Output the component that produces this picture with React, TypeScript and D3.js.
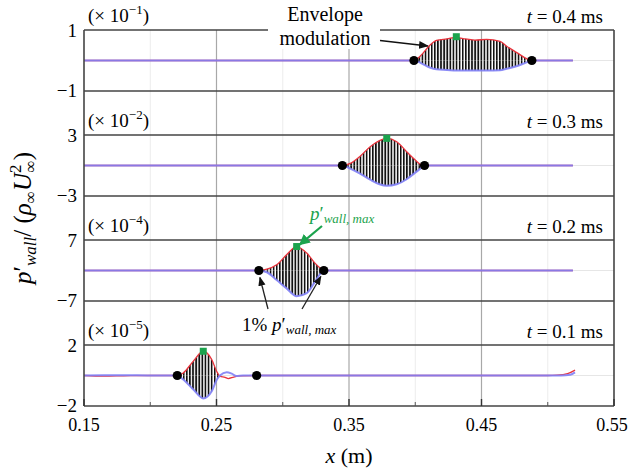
import React from 'react';
import * as d3 from 'd3';

type Pt = [number, number];

const xTicks = [0.15, 0.25, 0.35, 0.45, 0.55];
const xMinorTicks = [0.2, 0.3, 0.4, 0.5];
const timeLabels = ['0.4', '0.3', '0.2', '0.1'];
const scaleExponents = ['−1', '−2', '−4', '−5'];
const yLimits = [1, 3, 7, 2];

// red = upper envelope, blue = lower envelope (values in the panel's own units)
const red04: Pt[] = [[0.15, 0], [0.399, 0], [0.405, 0.2], [0.411, 0.5], [0.416, 0.66], [0.424, 0.71], [0.431, 0.76], [0.436, 0.72], [0.445, 0.67], [0.454, 0.69], [0.464, 0.63], [0.469, 0.47], [0.477, 0.25], [0.484, 0.06], [0.488, 0], [0.519, 0]];
const blue04: Pt[] = [[0.15, 0], [0.399, 0], [0.405, -0.1], [0.411, -0.23], [0.416, -0.29], [0.424, -0.31], [0.431, -0.33], [0.436, -0.33], [0.445, -0.33], [0.454, -0.33], [0.464, -0.32], [0.469, -0.27], [0.477, -0.18], [0.484, -0.06], [0.488, 0], [0.519, 0]];

const red03: Pt[] = [[0.15, 0], [0.345, 0], [0.351, 0.21], [0.358, 0.87], [0.366, 1.85], [0.373, 2.45], [0.3785, 2.67], [0.386, 2.34], [0.3935, 1.36], [0.4, 0.54], [0.4035, 0.15], [0.407, 0], [0.519, 0]];
const blue03: Pt[] = [[0.15, 0], [0.345, 0], [0.351, -0.3], [0.358, -0.77], [0.366, -1.4], [0.373, -1.85], [0.3785, -2.0], [0.386, -1.85], [0.3935, -1.35], [0.4, -0.7], [0.4035, -0.35], [0.407, 0], [0.519, 0]];

const red02: Pt[] = [[0.15, 0], [0.282, 0], [0.288, 0.3], [0.2954, 1.3], [0.3029, 3.6], [0.3105, 5.5], [0.3181, 4.0], [0.3243, 1.7], [0.3285, 0.5], [0.331, 0], [0.519, 0]];
const blue02: Pt[] = [[0.15, 0], [0.282, 0], [0.288, -0.4], [0.2954, -2.2], [0.3029, -4.1], [0.3105, -5.9], [0.3181, -5.2], [0.3243, -2.6], [0.3285, -0.7], [0.331, 0], [0.519, 0]];

const red01: Pt[] = [[0.15, 0], [0.165, -0.04], [0.18, -0.02], [0.2, 0], [0.2204, 0], [0.2249, 0.17], [0.2325, 0.94], [0.24, 1.59], [0.2464, 1.05], [0.2501, 0.28], [0.2526, -0.05], [0.2565, -0.12], [0.2589, -0.2], [0.263, -0.1], [0.268, -0.03], [0.28, 0], [0.5, 0], [0.507, 0.02], [0.515, 0.12], [0.5206, 0.35]];
const blue01: Pt[] = [[0.15, 0], [0.165, 0.01], [0.18, 0.02], [0.2, 0], [0.2204, 0], [0.2249, -0.26], [0.2325, -0.92], [0.24, -1.5], [0.2464, -1.03], [0.2501, -0.3], [0.2526, 0], [0.2577, 0.22], [0.2615, 0.12], [0.265, -0.04], [0.27, 0], [0.28, 0], [0.51, 0], [0.517, 0.05], [0.5206, 0.2]];

const redSeries = [red04, red03, red02, red01];
const blueSeries = [blue04, blue03, blue02, blue01];
// 1% of max markers (packet limits) and the filled carrier range
const packetEnds: Pt[] = [[0.399, 0.488], [0.345, 0.407], [0.282, 0.331], [0.2204, 0.2803]];
const fillRanges: Pt[] = [[0.399, 0.488], [0.345, 0.407], [0.282, 0.331], [0.2204, 0.2526]];
const peaks: Pt[] = [[0.431, 0.78], [0.3785, 2.67], [0.3105, 5.5], [0.24, 1.59]];

const W = 629;
const H = 472;
const left = 84;
const right = 614;
const firstTop = 30;
const panelH = 61;
const panelStep = 105;
const font = 'Liberation Serif, Times New Roman, Tinos, DejaVu Serif, serif';

export default function App() {
  const x = d3.scaleLinear().domain([0.15, 0.55]).range([left, right]);
  const axisBottom = firstTop + 3 * panelStep + panelH;

  const panels = yLimits.map((lim, i) => {
    const top = firstTop + i * panelStep;
    const y = d3.scaleLinear().domain([-lim, lim]).range([top + panelH, top]);
    const line = d3.line<Pt>().x(d => x(d[0])).y(d => y(d[1])).curve(d3.curveMonotoneX);
    const area = d3.area<Pt>().x(d => x(d[0])).y0(y(0)).y1(d => y(d[1])).curve(d3.curveMonotoneX);
    return { i, lim, top, y, line, area };
  });

  const p3 = panels[2];

  return (
    <svg width={W} height={H} style={{ position: 'absolute', left: 0, top: 0, background: '#fff', fontFamily: font }}>
      <defs>
        <pattern id="carrier" width={3.1} height={10} patternUnits="userSpaceOnUse">
          <rect width={3.1} height={10} fill="#fff" />
          <rect width={1.7} height={10} fill="#111" />
        </pattern>
        {panels.map(p => (
          <clipPath key={p.i} id={`fill${p.i}`}>
            <rect x={x(fillRanges[p.i][0])} y={p.top}
              width={x(fillRanges[p.i][1]) - x(fillRanges[p.i][0])} height={panelH} />
          </clipPath>
        ))}
        <marker id="arrowK" viewBox="0 0 10 10" refX={9} refY={5} markerWidth={7} markerHeight={7} orient="auto">
          <path d="M0,1 L10,5 L0,9 z" fill="#111" />
        </marker>
        <marker id="arrowG" viewBox="0 0 10 10" refX={9} refY={5} markerWidth={5} markerHeight={5} orient="auto">
          <path d="M0,0 L10,5 L0,10 z" fill="#1ba34d" />
        </marker>
      </defs>

      {/* vertical grid */}
      {xMinorTicks.map(t => (
        <line key={'mg' + t} x1={x(t)} x2={x(t)} y1={firstTop} y2={axisBottom} stroke="#ececec" strokeWidth={1} />
      ))}
      {xTicks.slice(1, -1).map(t => (
        <line key={'g' + t} x1={x(t)} x2={x(t)} y1={firstTop} y2={axisBottom} stroke="#a8a8a8" strokeWidth={1.2} />
      ))}

      {panels.map(p => (
        <g key={p.i}>
          <line x1={left} x2={right} y1={p.y(0)} y2={p.y(0)} stroke="#e6e6e6" strokeWidth={1} />
          <line x1={left} x2={right} y1={p.top} y2={p.top} stroke="#444" strokeWidth={1.6} />
          <line x1={left} x2={right} y1={p.top + panelH} y2={p.top + panelH} stroke="#444" strokeWidth={1.6} />
          <g clipPath={`url(#fill${p.i})`}>
            <path d={p.area(redSeries[p.i]) || ''} fill="url(#carrier)" />
            <path d={p.area(blueSeries[p.i]) || ''} fill="url(#carrier)" />
          </g>
          <path d={p.line(redSeries[p.i]) || ''} fill="none" stroke="#e8333c" strokeWidth={1.3} />
          <path d={p.line(blueSeries[p.i]) || ''} fill="none" stroke="#8080f6" strokeWidth={2} strokeOpacity={0.9} />
          {packetEnds[p.i].map(v => (
            <circle key={v} cx={x(v)} cy={p.y(0)} r={4.6} fill="#000" />
          ))}
          <rect x={x(peaks[p.i][0]) - 3.5} y={p.y(peaks[p.i][1]) - 3.5} width={7} height={7} fill="#1ba34d" />
          <text x={left - 7} y={p.top} dy="0.35em" textAnchor="end" fontSize={19}>{yLimits[p.i]}</text>
          <text x={left - 7} y={p.top + panelH} dy="0.3em" textAnchor="end" fontSize={19}>{'−' + yLimits[p.i]}</text>
          <text x={left + 4} y={p.top - 8} fontSize={19}>
            (× 10<tspan fontSize={13} dy={-8}>{scaleExponents[p.i]}</tspan><tspan dy={8}>)</tspan>
          </text>
          <text x={right - 11} y={p.top - 7} textAnchor="end" fontSize={19}>
            <tspan fontStyle="italic">t</tspan> = {timeLabels[p.i]} ms
          </text>
        </g>
      ))}

      {/* spines */}
      <line x1={left} x2={left} y1={firstTop} y2={axisBottom} stroke="#444" strokeWidth={1.6} />
      <line x1={right} x2={right} y1={firstTop} y2={axisBottom} stroke="#444" strokeWidth={1.6} />

      {/* bottom axis */}
      {xTicks.map((t, k) => (
        <g key={'t' + t}>
          <line x1={x(t)} x2={x(t)} y1={axisBottom} y2={axisBottom - 7} stroke="#333" strokeWidth={1.4} />
          <text x={x(t)} dx={k === xTicks.length - 1 ? -2 : 0} y={axisBottom + 25} textAnchor="middle" fontSize={18}>{t.toFixed(2)}</text>
        </g>
      ))}
      {xMinorTicks.map(t => (
        <line key={'mt' + t} x1={x(t)} x2={x(t)} y1={axisBottom} y2={axisBottom - 4} stroke="#555" strokeWidth={1} />
      ))}
      <text x={(left + right) / 2} y={463} textAnchor="middle" fontSize={22}>
        <tspan fontStyle="italic">x</tspan> (m)
      </text>

      {/* y title */}
      <text transform="translate(31,218) rotate(-90)" textAnchor="middle" fontSize={25}>
        <tspan fontStyle="italic">p</tspan><tspan>′</tspan>
        <tspan fontStyle="italic" fontSize={17} dy={5}>wall</tspan>
        <tspan dy={-5}>/ (</tspan>
        <tspan fontStyle="italic">ρ</tspan>
        <tspan fontSize={17} dy={5}>∞</tspan>
        <tspan fontStyle="italic" dy={-5}>U</tspan>
        <tspan fontSize={17} dy={-10}>2</tspan>
        <tspan fontSize={17} dx={-8} dy={15}>∞</tspan>
        <tspan dy={-5}>)</tspan>
      </text>

      {/* envelope annotation */}
      <rect x={268} y={0} width={112} height={49} fill="#fff" />
      <text x={325} y={21} textAnchor="middle" fontSize={20}>Envelope</text>
      <text x={325} y={45} textAnchor="middle" fontSize={20}>modulation</text>
      <line x1={380} y1={40.5} x2={x(0.4095)} y2={46} stroke="#111" strokeWidth={1.4} markerEnd="url(#arrowK)" />

      {/* peak annotation, panel 3 */}
      <text x={310} y={220} fontSize={19} fill="#1ba34d">
        <tspan fontStyle="italic">p</tspan>′<tspan fontStyle="italic" fontSize={13} dy={3}>wall, max</tspan>
      </text>
      <line x1={322} y1={226} x2={x(peaks[2][0]) + 3} y2={p3.y(peaks[2][1]) - 2} stroke="#1ba34d"
        strokeWidth={2.2} markerEnd="url(#arrowG)" />

      {/* 1% annotation */}
      <text x={242} y={331} fontSize={19}>
        1% <tspan fontStyle="italic">p</tspan>′<tspan fontStyle="italic" fontSize={13} dy={3}>wall, max</tspan>
      </text>
      <line x1={268} y1={309} x2={x(packetEnds[2][0]) + 1} y2={p3.y(0) + 7} stroke="#222" strokeWidth={1.3} markerEnd="url(#arrowK)" />
      <line x1={302} y1={309} x2={x(packetEnds[2][1]) - 3} y2={p3.y(0) + 6} stroke="#222" strokeWidth={1.3} markerEnd="url(#arrowK)" />
    </svg>
  );
}
